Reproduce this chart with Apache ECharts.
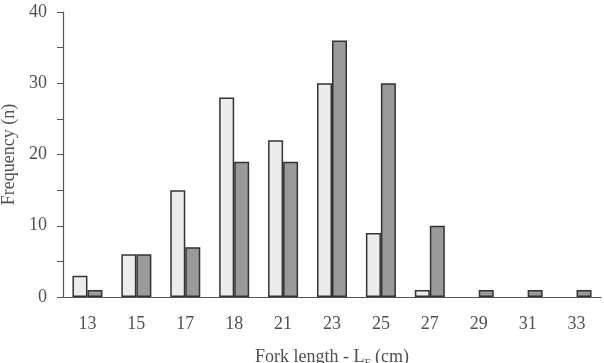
<!DOCTYPE html>
<html>
<head>
<meta charset="utf-8">
<script src="https://cdn.jsdelivr.net/npm/echarts@6/dist/echarts.min.js"></script>
<style>
  html, body { margin: 0; padding: 0; background: #fff; }
  #chart { width: 604px; height: 363px; }
</style>
</head>
<body>
<div id="chart"></div>
<script>
// fork length classes (cm)
const categories = ['13', '15', '17', '18', '21', '23', '25', '27', '29', '31', '33'];
// frequencies
const lightValues = [3, 6, 15, 28, 22, 30, 9, 1, 0, 0, 0];
const darkValues = [1, 6, 7, 19, 19, 36, 30, 10, 1, 1, 1];
const yTicks = [0, 10, 20, 30, 40];

const font = 'Liberation Serif';
const textColor = '#505050';
const lineColor = '#555';

// empty classes are drawn with no bar at all
const noZero = arr => arr.map(v => v === 0 ? '-' : v);

const chart = echarts.init(document.getElementById('chart'));
chart.setOption({
    animation: false,
    grid: { left: 63, right: 3, top: 12, bottom: 66, outerBoundsMode: 'none', containLabel: false },
    xAxis: {
        type: 'category',
        data: categories,
        name: '{a|Fork length - L}{s|F}{a| (cm)}',
        nameLocation: 'middle',
        nameGap: 48,
        nameTextStyle: {
            rich: {
                a: { fontFamily: font, fontSize: 18, lineHeight: 24, color: textColor },
                s: { fontFamily: font, fontSize: 11, lineHeight: 11, color: textColor, verticalAlign: 'bottom' }
            }
        },
        axisLine: { lineStyle: { color: lineColor, width: 1.2 } },
        axisTick: { length: 5, lineStyle: { color: lineColor } },
        axisLabel: { fontFamily: font, fontSize: 18, color: textColor, margin: 18 },
        splitLine: { show: false }
    },
    yAxis: {
        type: 'value',
        min: 0,
        max: 40,
        interval: 5,
        name: 'Frequency (n)',
        nameLocation: 'middle',
        nameGap: 45,
        nameTextStyle: { fontFamily: font, fontSize: 18, color: textColor },
        axisLine: { show: true, lineStyle: { color: lineColor, width: 1.2 } },
        axisTick: { show: true, length: 6, lineStyle: { color: lineColor } },
        axisLabel: {
            fontFamily: font, fontSize: 18, color: textColor, margin: 16,
            formatter: v => yTicks.includes(v) ? String(v) : ''
        },
        splitLine: { show: false }
    },
    series: [
        {
            type: 'bar',
            data: noZero(lightValues),
            barWidth: 15,
            barGap: '0%',
            itemStyle: { color: '#ececec', borderColor: '#333', borderWidth: 1.5 }
        },
        {
            type: 'bar',
            data: noZero(darkValues),
            barWidth: 15,
            itemStyle: { color: '#9a9a9a', borderColor: '#333', borderWidth: 1.5 }
        }
    ]
});
</script>
</body>
</html>
